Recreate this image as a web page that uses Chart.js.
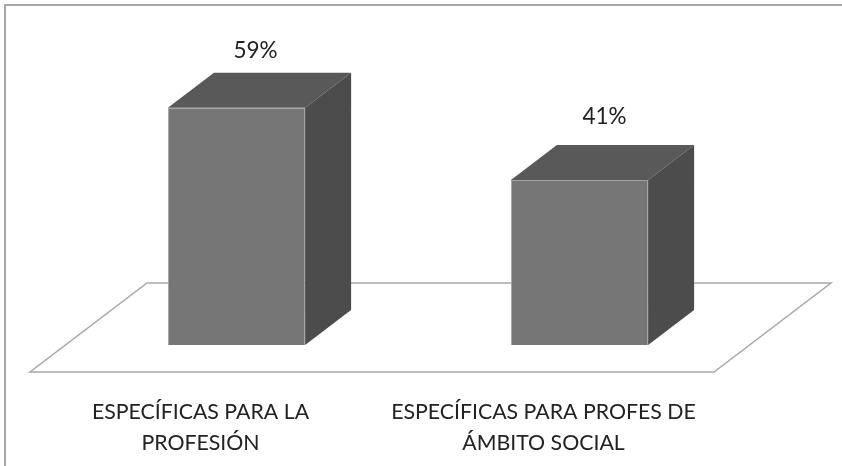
<!DOCTYPE html>
<html>
<head>
<meta charset="utf-8">
<script src="https://cdn.jsdelivr.net/npm/chart.js@4"></script>
<style>
    html, body { margin: 0; padding: 0; background: #fff; }
    #wrap { position: relative; width: 842px; height: 466px; }
</style>
</head>
<body>
<div id="wrap"><canvas id="chart"></canvas></div>
<script>
const categories = [
    ['ESPECÍFICAS PARA LA', 'PROFESIÓN'],
    ['ESPECÍFICAS PARA PROFES DE', 'ÁMBITO SOCIAL']
];
const percentages = [59, 41];

const DEPTH_X = 46;
const DEPTH_Y = 35;
const LABEL_FONT = '22.5px Lato, sans-serif';

// Frame and floor sit behind the bars
const floorPlugin = {
    id: 'floor',
    beforeDatasetsDraw(chart) {
        const { ctx, chartArea: a, width, height } = chart;
        const frontY = a.bottom + 27;
        const backY = a.bottom - 62;
        const frontLeft = a.left - 35;
        const frontRight = a.right - 37;

        ctx.save();
        ctx.strokeStyle = '#a8a8a8';
        ctx.lineWidth = 2;
        ctx.beginPath();
        ctx.moveTo(5, height);
        ctx.lineTo(5, 5);
        ctx.lineTo(width, 5);
        ctx.stroke();

        ctx.strokeStyle = '#a8a8a8';
        ctx.lineWidth = 1.5;
        ctx.beginPath();
        ctx.moveTo(frontLeft, frontY);
        ctx.lineTo(frontRight, frontY);
        ctx.lineTo(frontRight + 117, backY);
        ctx.lineTo(frontLeft + 117, backY);
        ctx.closePath();
        ctx.stroke();
        ctx.restore();
    }
};

// Chart.js has no 3D bars, so add top and side faces to each bar
const boxPlugin = {
    id: 'box',
    afterDatasetsDraw(chart) {
        const { ctx } = chart;
        const nudges = [[-4, 3], [2, -3]];
        chart.getDatasetMeta(0).data.forEach((bar, i) => {
            const left = bar.x - bar.width / 2;
            const right = bar.x + bar.width / 2;

            ctx.save();
            ctx.fillStyle = '#595959';
            ctx.beginPath();
            ctx.moveTo(left, bar.y);
            ctx.lineTo(left + DEPTH_X, bar.y - DEPTH_Y);
            ctx.lineTo(right + DEPTH_X, bar.y - DEPTH_Y);
            ctx.lineTo(right, bar.y);
            ctx.closePath();
            ctx.fill();

            ctx.fillStyle = '#4c4c4c';
            ctx.beginPath();
            ctx.moveTo(right, bar.y);
            ctx.lineTo(right + DEPTH_X, bar.y - DEPTH_Y);
            ctx.lineTo(right + DEPTH_X, bar.base - DEPTH_Y);
            ctx.lineTo(right, bar.base);
            ctx.closePath();
            ctx.fill();

            ctx.fillStyle = '#222';
            ctx.font = LABEL_FONT;
            ctx.textAlign = 'center';
            ctx.textBaseline = 'middle';
            ctx.fillText(percentages[i] + '%',
                bar.x + DEPTH_X / 2 + nudges[i][0],
                bar.y - DEPTH_Y - 25 + nudges[i][1]);
            ctx.restore();
        });
    }
};

new Chart(document.getElementById('chart'), {
    type: 'bar',
    data: {
        labels: categories,
        datasets: [{
            data: percentages,
            backgroundColor: '#767676',
            borderColor: '#a4a4a4',
            borderWidth: 1,
            barPercentage: 0.4,
            categoryPercentage: 1
        }]
    },
    options: {
        responsive: true,
        maintainAspectRatio: false,
        animation: false,
        layout: { padding: { left: 65, right: 91, top: 63.5 } },
        plugins: { legend: { display: false }, tooltip: { enabled: false } },
        scales: {
            y: { display: false, min: 0, max: 70 },
            x: {
                afterFit(scale) { scale.height = 121; },
                grid: { display: false },
                border: { display: false },
                ticks: {
                    color: '#222',
                    padding: 44,
                    labelOffset: -36,
                    maxRotation: 0,
                    font: { family: 'Lato, sans-serif', size: 21.3, lineHeight: 1.43 }
                }
            }
        }
    },
    plugins: [floorPlugin, boxPlugin]
});
</script>
</body>
</html>
